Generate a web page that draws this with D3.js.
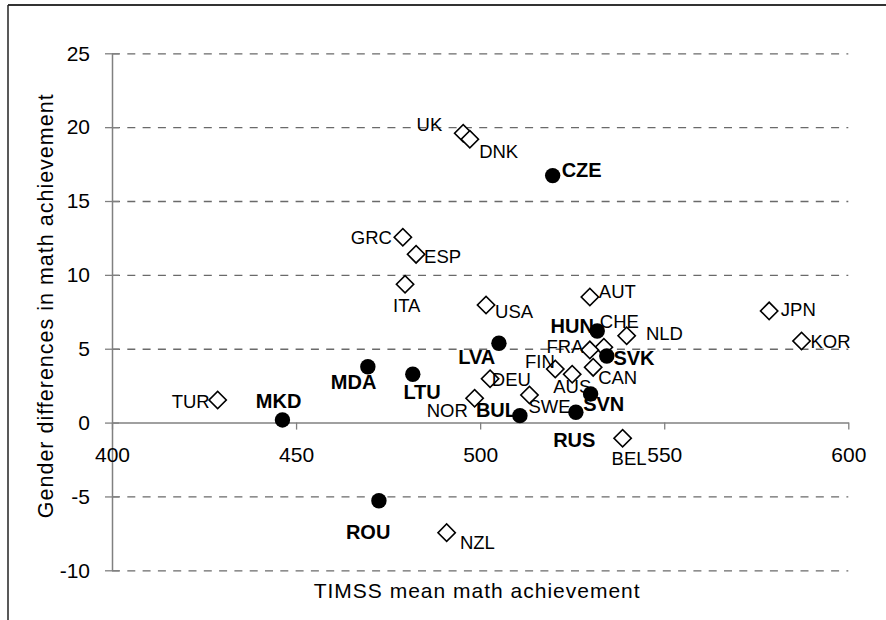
<!DOCTYPE html>
<html>
<head>
<meta charset="utf-8">
<script src="https://cdn.jsdelivr.net/npm/d3@7"></script>
<style>
  html, body { margin: 0; padding: 0; background: #fff; }
  svg { display: block; }
  text { font-family: "Liberation Sans", Arial, Helvetica, sans-serif; fill: #000; }
</style>
</head>
<body>
<svg id="chart" width="886" height="620"></svg>
<script>
// ---------------- data ----------------
const countries = ["UK","DNK","CZE","GRC","ESP","ITA","USA","AUT","JPN","HUN","CHE","NLD","KOR",
                   "LVA","FRA","SVK","MDA","FIN","CAN","LTU","AUS","DEU","TUR","SVN","SWE","NOR",
                   "MKD","BUL","RUS","BEL","ROU","NZL"];
const timssMean = [495.4,497.2,519.7,479.0,482.6,479.6,501.6,529.8,578.5,531.8,533.6,539.8,587.3,
                   505.1,529.8,534.4,469.5,520.4,530.7,481.7,525.0,502.7,428.7,530.0,513.4,498.5,
                   446.3,510.8,526.0,538.7,472.5,490.9];
const genderDiff = [19.59,19.18,16.72,12.55,11.39,9.36,7.96,8.50,7.56,6.20,5.10,5.88,5.52,
                    5.37,4.92,4.51,3.78,3.63,3.74,3.27,3.27,2.97,1.53,1.94,1.87,1.65,
                    0.18,0.47,0.70,-1.06,-5.29,-7.45];
// true = transition country (filled circle, bold label); false = open diamond
const transition = [false,false,true,false,false,false,false,false,false,true,false,false,false,
                    true,false,true,true,false,false,true,false,false,false,true,false,false,
                    true,true,true,false,true,false];
const xTicks = [400,450,500,550,600];
const yTicks = [-10,-5,0,5,10,15,20,25];
const xTitle = "TIMSS mean math achievement";
const yTitle = "Gender differences in math achievement";

// label placement (pixel offsets of text start/baseline from marker centre) — layout only
const labelOffsets = {
  AUT:[9,1], USA:[9,12.7], HUN:[-46.6,1.6], CHE:[-4,-19], NLD:[19.3,4.3], FRA:[-43.3,2.6],
  LVA:[-40.7,20.7], SVK:[6.6,9], FIN:[-30.3,-0.7], CAN:[5,16.7], DEU:[1.7,7.3], AUS:[-19,19],
  LTU:[-9.4,25], SVN:[-7.4,16.7], NOR:[-48,19], SWE:[-1,17.7], BUL:[-44,1.6], RUS:[-22.7,34.4],
  BEL:[-11,26.7], UK:[-46.6,-2.6], DNK:[9.3,19], CZE:[9,1.6], GRC:[-52,6.7], ESP:[8,9],
  ITA:[-12,27.4], TUR:[-46,8.3], MKD:[-26.6,-11.7], MDA:[-37,22.6], ROU:[-33,38.3],
  JPN:[11.7,5], KOR:[9,7.3], NZL:[13.3,16.6]
};

const points = countries.map((c, i) => ({
  name: c, x: timssMean[i], y: genderDiff[i], transition: transition[i]
}));

// ---------------- layout ----------------
const svg = d3.select("#chart");
const plot = { left: 112, right: 848.3, top: 53.3, bottom: 570.3 };

const x = d3.scaleLinear().domain([400, 600]).range([plot.left, plot.right]);
const y = d3.scaleLinear().domain([-10, 25]).range([plot.bottom, plot.top]);
const fmt = d => String(d); // plain hyphen-minus like the reference

// outer frame (top and left edges visible)
svg.append("line").attr("x1", 8).attr("x2", 886).attr("y1", 5).attr("y2", 5)
  .attr("stroke", "#333").attr("stroke-width", 2);
svg.append("line").attr("x1", 8).attr("x2", 8).attr("y1", 5).attr("y2", 620)
  .attr("stroke", "#222").attr("stroke-width", 1.5);

// dashed gridlines
const grid = svg.append("g").attr("transform", `translate(${plot.left},0)`)
  .call(d3.axisLeft(y).tickValues(yTicks.filter(v => v !== 0))
        .tickSize(-(plot.right - plot.left)).tickFormat(""));
grid.select(".domain").remove();
grid.selectAll(".tick line").attr("stroke", "#6a6a6a").attr("stroke-width", 1.3)
  .attr("stroke-dasharray", "8,7.3");

// y axis
const yAxis = svg.append("g").attr("transform", `translate(${plot.left},0)`)
  .call(d3.axisLeft(y).tickValues(yTicks).tickSize(7).tickSizeOuter(0).tickPadding(15)
        .tickFormat(fmt));
yAxis.select(".domain").attr("stroke", "#808080").attr("stroke-width", 1.5);
yAxis.selectAll(".tick line").attr("x1", 7).attr("stroke", "#808080").attr("stroke-width", 1.3);
yAxis.selectAll(".tick text").attr("font-size", 21).style("font-family", '"Liberation Sans", Arial, sans-serif').attr("fill", "#000");

// x axis at y = 0
const xAxis = svg.append("g").attr("transform", `translate(0,${y(0)})`)
  .call(d3.axisBottom(x).tickValues(xTicks).tickSize(7).tickSizeOuter(0).tickPadding(18)
        .tickFormat(fmt));
xAxis.select(".domain").attr("stroke", "#808080").attr("stroke-width", 1.5);
xAxis.selectAll(".tick line").attr("stroke", "#808080").attr("stroke-width", 1.3);
xAxis.selectAll(".tick text").attr("font-size", 21).style("font-family", '"Liberation Sans", Arial, sans-serif').attr("fill", "#000");

// axis titles
svg.append("text")
  .attr("x", (plot.left + plot.right) / 2 - 3).attr("y", 598.3)
  .attr("text-anchor", "middle").attr("font-size", 21).attr("letter-spacing", 1)
  .text(xTitle);
svg.append("text")
  .attr("transform", `translate(53.3,${(plot.top + plot.bottom) / 2 - 6}) rotate(-90)`)
  .attr("text-anchor", "middle").attr("font-size", 21.5).attr("letter-spacing", 1)
  .text(yTitle);

// markers: diamonds first, then filled circles
const diamond = d3.symbol().type(d3.symbolSquare).size(150);
svg.append("g").selectAll("path")
  .data(points.filter(d => !d.transition))
  .join("path")
  .attr("d", diamond)
  .attr("transform", d => `translate(${x(d.x)},${y(d.y)}) rotate(45)`)
  .attr("fill", "#fff").attr("stroke", "#000").attr("stroke-width", 1.6);

svg.append("g").selectAll("circle")
  .data(points.filter(d => d.transition))
  .join("circle")
  .attr("cx", d => x(d.x)).attr("cy", d => y(d.y)).attr("r", 7.7)
  .attr("fill", "#000");

// labels
svg.append("g").selectAll("text")
  .data(points)
  .join("text")
  .attr("x", d => x(d.x) + labelOffsets[d.name][0])
  .attr("y", d => y(d.y) + labelOffsets[d.name][1])
  .attr("font-size", d => d.transition ? 20 : 18.5)
  .attr("font-weight", d => d.transition ? "bold" : "normal")
  .text(d => d.name);
</script>
</body>
</html>
